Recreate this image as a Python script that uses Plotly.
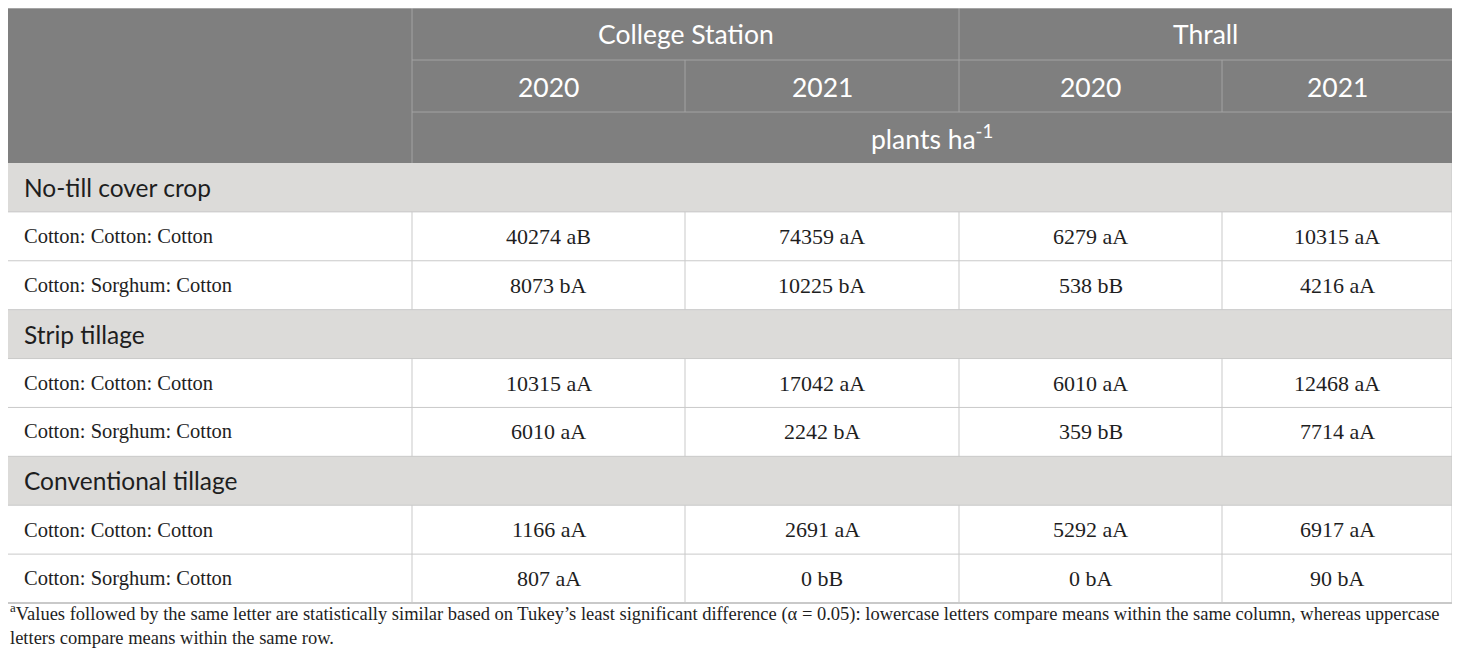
import plotly.graph_objects as go

# --------------------- table content ---------------------------------------
locations = ['College Station', 'Thrall']
years = ['2020', '2021', '2020', '2021']
unit_label = 'plants ha<sup>-1</sup>'
systems = ['No-till cover crop', 'Strip tillage', 'Conventional tillage']
rotations = ['Cotton: Cotton: Cotton', 'Cotton: Sorghum: Cotton']

# plant density, one list per column (rows: NT-CCC, NT-CSC, ST-CCC, ST-CSC, CT-CCC, CT-CSC)
cs_2020 = [40274, 8073, 10315, 6010, 1166, 807]
cs_2021 = [74359, 10225, 17042, 2242, 2691, 0]
th_2020 = [6279, 538, 6010, 359, 5292, 0]
th_2021 = [10315, 4216, 12468, 7714, 6917, 90]
cs_2020_let = ['aB', 'bA', 'aA', 'aA', 'aA', 'aA']
cs_2021_let = ['aA', 'bA', 'aA', 'bA', 'aA', 'bB']
th_2020_let = ['aA', 'bB', 'aA', 'bB', 'aA', 'bA']
th_2021_let = ['aA', 'aA', 'aA', 'aA', 'aA', 'bA']

footnote = ('<sup>a</sup>Values followed by the same letter are statistically similar based on '
            'Tukey\u2019s least significant difference (\u03b1 = 0.05): lowercase letters compare '
            'means within the same column, whereas uppercase<br>letters compare means within the same row.')

# --------------------- geometry / styles -----------------------------------
# page body has an 8px margin, so the axes are offset to keep pixel coordinates
W, H = 1444, 649
col_x = [7, 412, 685, 959, 1222, 1452]
head_y = [8, 60, 112, 163]
row_h = (603 - 163) / 9
HEAD_BG = '#7f7f7f'
HEAD_LINE = '#a3a3a3'
GROUP_BG = '#dcdbd9'
GRID = '#c9c9c9'
SANS = 'Lato'
SERIF = 'Liberation Serif'
INK = '#1e1e1e'

shapes = []
annotations = []


def rect(x0, y0, x1, y1, fill):
    shapes.append(dict(type='rect', xref='x', yref='y', x0=x0, y0=y0, x1=x1, y1=y1,
                       fillcolor=fill, line=dict(width=0), layer='below'))


def line(x0, y0, x1, y1, color, width=1):
    shapes.append(dict(type='line', xref='x', yref='y', x0=x0, y0=y0, x1=x1, y1=y1,
                       line=dict(color=color, width=width)))


def text(x, y, s, font, size, color, xanchor='center'):
    annotations.append(dict(x=x, y=y, xref='x', yref='y', text=s, showarrow=False,
                            xanchor=xanchor, yanchor='middle',
                            font=dict(family=font, size=size, color=color)))


# header block
rect(col_x[0], head_y[0], col_x[-1], head_y[-1], HEAD_BG)
line(col_x[1], head_y[0], col_x[1], head_y[-1], HEAD_LINE)
line(col_x[3], head_y[0], col_x[3], head_y[2], HEAD_LINE)
line(col_x[2], head_y[1], col_x[2], head_y[2], HEAD_LINE)
line(col_x[4], head_y[1], col_x[4], head_y[2], HEAD_LINE)
line(col_x[1], head_y[1], col_x[-1], head_y[1], HEAD_LINE)
line(col_x[1], head_y[2], col_x[-1], head_y[2], HEAD_LINE)

for i, loc in enumerate(locations):
    text((col_x[1 + 2 * i] + col_x[3 + 2 * i]) / 2, (head_y[0] + head_y[1]) / 2, loc, SANS, 26.5, 'white')
for i, yr in enumerate(years):
    text((col_x[1 + i] + col_x[2 + i]) / 2, (head_y[1] + head_y[2]) / 2 + 1, yr, SANS, 26.5, 'white')
text((col_x[1] + col_x[-1]) / 2, (head_y[2] + head_y[3]) / 2, unit_label, SANS, 26.5, 'white')

# body
columns = [(cs_2020, cs_2020_let), (cs_2021, cs_2021_let), (th_2020, th_2020_let), (th_2021, th_2021_let)]
y = head_y[-1]
k = 0
for g, sysname in enumerate(systems):
    rect(col_x[0], y, col_x[-1], y + row_h, GROUP_BG)
    text(col_x[0] + 15, y + row_h / 2, sysname, SANS, 24.5, INK, xanchor='left')
    line(col_x[0], y + row_h, col_x[-1], y + row_h, GRID)
    y += row_h
    for r, rot in enumerate(rotations):
        text(col_x[0] + 15, y + row_h / 2, rot, SERIF, 20.5, INK, xanchor='left')
        for c, (vals, lets) in enumerate(columns):
            text((col_x[1 + c] + col_x[2 + c]) / 2, y + row_h / 2,
                 f'{vals[k]} {lets[k]}', SERIF, 22, INK)
        for cx in col_x[1:-1]:
            line(cx, y, cx, y + row_h, GRID)
        y += row_h
        line(col_x[0], y, col_x[-1], y, GRID, 2 if y > 600 else 1)
        k += 1

# outer frame
line(col_x[0], head_y[0], col_x[-1], head_y[0], GRID)
line(col_x[0], head_y[0], col_x[0], y, GRID)
line(col_x[-1], head_y[-1], col_x[-1], y, GRID)

annotations.append(dict(x=col_x[0] + 1, y=624, xref='x', yref='y', text=footnote, showarrow=False,
                        xanchor='left', yanchor='middle', align='left',
                        font=dict(family=SERIF, size=18.5, color=INK)))

fig = go.Figure()
fig.update_layout(width=W, height=H, margin=dict(l=0, r=0, t=0, b=0),
                  paper_bgcolor='white', plot_bgcolor='white',
                  xaxis=dict(range=[8, 8 + W], visible=False, fixedrange=True),
                  yaxis=dict(range=[8 + H, 8], visible=False, fixedrange=True),
                  shapes=shapes, annotations=annotations, showlegend=False)
fig.write_html('out.html')
